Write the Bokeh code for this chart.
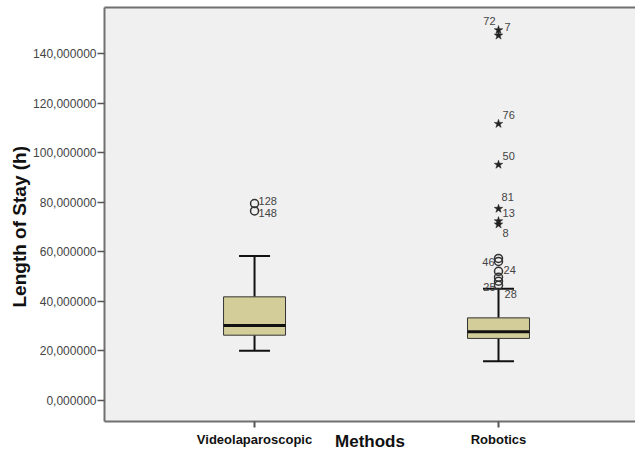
from bokeh.plotting import figure
from bokeh.models import FixedTicker, ColumnDataSource, Range1d, LinearAxis, Title
from bokeh.embed import file_html
from bokeh.resources import INLINE
from bokeh.core.properties import value

# ---- data ----
methods = ["Videolaparoscopic", "Robotics"]
whisker_low = [19.9, 15.7]
q1 = [26.2, 24.9]
median = [30.1, 27.6]
q3 = [41.7, 33.2]
whisker_high = [58.2, 45.0]

# outliers (circles) : method index, value, case label
circle_method = [0, 0, 1, 1, 1, 1, 1, 1]
circle_values = [79.4, 76.4, 57.2, 56.0, 52.0, 49.6, 48.0, 46.4]
circle_labels = ["128", "148", "46", "", "24", "", "25", "28"]

# extreme values (stars)
star_method = [1, 1, 1, 1, 1, 1, 1]
star_values = [149.5, 147.3, 111.6, 95.1, 77.3, 72.3, 71.0]
star_labels = ["72", "7", "76", "50", "81", "13", "8"]

y_ticks = [0, 20, 40, 60, 80, 100, 120, 140]
y_tick_labels = ["0,000000", "20,000000", "40,000000", "60,000000",
                 "80,000000", "100,000000", "120,000000", "140,000000"]

# ---- label placement (styling, pixels) ----
circle_dx = [4, 4, -4, 0, 5, 0, -3, 6]
circle_dy = [-3, 2, 4, 0, -1, 0, 6, 9]
circle_align = ["left", "left", "right", "left", "left", "left", "right", "left"]
star_dx = [-3, 6, 4, 4, 3, 4, 4]
star_dy = [-9, -8, -9, -9, -12, -8, 9]
star_align = ["right", "left", "left", "left", "left", "left", "left"]

FONT = "Liberation Sans"
FRAME = "#707070"
pos = [i + 1 for i in range(len(methods))]

p = figure(width=635, height=453, output_backend="svg", toolbar_location=None,
           x_range=Range1d(0.385, 2.5615), y_range=Range1d(-8.67, 158.6),
           min_border_left=104, min_border_right=0, min_border_top=7,
           min_border_bottom=32)

p.background_fill_color = "#F0F0F0"
p.border_fill_color = "#FFFFFF"
p.outline_line_color = None
p.xgrid.grid_line_color = None
p.ygrid.grid_line_color = None

box_w = 0.254
cap_w = 0.127

# whiskers
p.segment(x0=pos, y0=q3, x1=pos, y1=whisker_high, line_color="#111111", line_width=2)
p.segment(x0=pos, y0=q1, x1=pos, y1=whisker_low, line_color="#111111", line_width=2)
p.segment(x0=[x - cap_w / 2 for x in pos], y0=whisker_high,
          x1=[x + cap_w / 2 for x in pos], y1=whisker_high, line_color="#111111", line_width=2)
p.segment(x0=[x - cap_w / 2 for x in pos], y0=whisker_low,
          x1=[x + cap_w / 2 for x in pos], y1=whisker_low, line_color="#111111", line_width=2)

# boxes
p.vbar(x=pos, bottom=q1, top=q3, width=box_w, fill_color="#D3CE99",
       line_color="#333333", line_width=1)
p.segment(x0=[x - box_w / 2 for x in pos], y0=median,
          x1=[x + box_w / 2 for x in pos], y1=median, line_color="#111111", line_width=3)

# outliers
cx = [pos[m] for m in circle_method]
csrc = ColumnDataSource(dict(x=cx, y=circle_values, t=circle_labels,
                             dx=circle_dx, dy=circle_dy, a=circle_align))
p.scatter("x", "y", source=csrc, marker="circle", size=8, fill_color=None,
          line_color="#333333", line_width=1.5)
p.text("x", "y", text="t", source=csrc, x_offset="dx", y_offset="dy",
       text_align="a", text_baseline="middle", text_font=value(FONT),
       text_font_size="11px", text_color="#444444")

sx = [pos[m] for m in star_method]
ssrc = ColumnDataSource(dict(x=sx, y=star_values, t=star_labels,
                             dx=star_dx, dy=star_dy, a=star_align))
p.scatter("x", "y", source=ssrc, marker="star", size=9, fill_color="#222222",
          line_color="#222222", line_width=0.5)
p.text("x", "y", text="t", source=ssrc, x_offset="dx", y_offset="dy",
       text_align="a", text_baseline="middle", text_font=value(FONT),
       text_font_size="11px", text_color="#444444")

# axes
p.xaxis.ticker = FixedTicker(ticks=pos)
p.xaxis.major_label_overrides = {x: m for x, m in zip(pos, methods)}
p.xaxis.minor_tick_line_color = None
p.xaxis.major_tick_in = 0
p.xaxis.major_tick_out = 6
p.xaxis.major_tick_line_color = "#555555"
p.xaxis.major_tick_line_width = 2
p.xaxis.axis_line_color = FRAME
p.xaxis.axis_line_width = 2
p.xaxis.major_label_text_font = FONT
p.xaxis.major_label_text_font_size = "13px"
p.xaxis.major_label_text_font_style = "bold"
p.xaxis.major_label_text_color = "#111111"
p.xaxis.major_label_standoff = 4
p.xaxis.axis_label = "Methods"
p.xaxis.axis_label_text_font = FONT
p.xaxis.axis_label_text_font_size = "17px"
p.xaxis.axis_label_text_font_style = "bold"
p.xaxis.axis_label_text_color = "#111111"
p.xaxis.axis_label_standoff = -18

p.yaxis.ticker = FixedTicker(ticks=y_ticks)
p.yaxis.major_label_overrides = {t: l for t, l in zip(y_ticks, y_tick_labels)}
p.yaxis.minor_tick_line_color = None
p.yaxis.major_tick_in = 0
p.yaxis.major_tick_out = 7
p.yaxis.major_tick_line_color = "#555555"
p.yaxis.major_tick_line_width = 1.5
p.yaxis.axis_line_color = FRAME
p.yaxis.axis_line_width = 2
p.yaxis.major_label_text_font = FONT
p.yaxis.major_label_text_font_size = "12px"
p.yaxis.major_label_text_color = "#444444"
p.yaxis.major_label_standoff = 1

# top frame line
top_axis = LinearAxis(ticker=FixedTicker(ticks=[]), axis_line_color=FRAME,
                      axis_line_width=2, major_tick_line_color=None,
                      minor_tick_line_color=None, major_label_text_font_size="0px")
p.add_layout(top_axis, "above")

# y axis title (placed lower than centre, as in the reference)
ytitle = Title(text="Length of Stay (h)", text_font=FONT, text_font_size="19px",
               text_font_style="bold", text_color="#111111", align="left",
               offset=114, standoff=2)
p.add_layout(ytitle, "left")

open("out.html", "w").write(file_html(p, INLINE))
